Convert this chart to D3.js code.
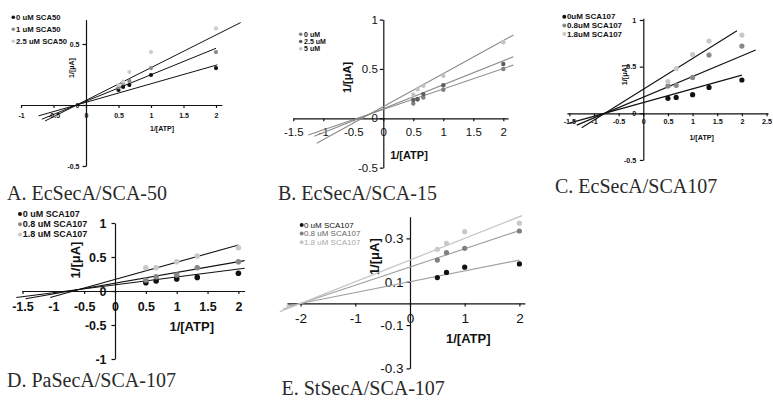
<!DOCTYPE html>
<html>
<head>
<meta charset="utf-8">
<script src="https://cdn.jsdelivr.net/npm/d3@7"></script>
<style>
  body { margin: 0; background: #fff; }
  svg { display: block; }
</style>
</head>
<body>
<svg id="chart" width="773" height="401"></svg>
<script>
// ---- data ----
// A. EcSecA/SCA-50
const aSeries = ['0 uM SCA50', '1 uM SCA50', '2.5 uM SCA50'];
const aX = [0.5, 0.57, 0.667, 1, 2];
const aY = [[0.123, 0.148, 0.164, 0.246, 0.303],
            [0.145, 0.178, 0.197, 0.303, 0.434],
            [0.164, 0.191, 0.27, 0.434, 0.628]];
const aSlope = [0.152, 0.217, 0.268];
const aIntercept = [0.022, 0.031, 0.038];
const aFrom = [-0.73, -0.68, -0.63];
const aTo = [2.02, 2.0, 2.38];
const aXTicks = [-1, -0.5, 0, 0.5, 1, 1.5, 2];
const aYTicks = [-0.5, 0, 0.5];

// B. EcSecA/SCA-15
const bSeries = ['0 uM', '2.5 uM', '5 uM'];
const bX = [0.5, 0.57, 0.667, 1, 2];
const bY = [[0.15, 0.19, 0.21, 0.29, 0.5],
            [0.185, 0.195, 0.245, 0.335, 0.55],
            [0.24, 0.295, 0.33, 0.43, 0.77]];
const bSlope = [0.207, 0.243, 0.334];
const bIntercept = [0.09, 0.097, 0.119];
const bFrom = [-1.25, -1.15, -1.11];
const bTo = [2.17, 2.17, 2.17];
const bXTicks = [-1.5, -1, -0.5, 0, 0.5, 1, 1.5, 2];
const bYTicks = [-0.5, 0, 0.5, 1];

// C. EcSecA/SCA107
const cSeries = ['0uM SCA107', '0.8uM SCA107', '1.8uM SCA107'];
const cX = [0.5, 0.667, 1, 1.333, 2];
const cY = [[0.16, 0.17, 0.2, 0.277, 0.357],
            [0.293, 0.3, 0.385, 0.625, 0.72],
            [0.34, 0.48, 0.63, 0.775, 0.838]];
const cSlope = [0.147, 0.222, 0.33];
const cIntercept = [0.115, 0.173, 0.257];
const cFrom = [-1.5, -1.35, -1.25];
const cTo = [2.0, 2.28, 1.9];
const cXTicks = [-1.5, -1, -0.5, 0, 0.5, 1, 1.5, 2, 2.5];
const cYTicks = [-0.5, 0, 0.5, 1];

// D. PaSecA/SCA-107
const dSeries = ['0 uM SCA107', '0.8 uM SCA107', '1.8 uM SCA107'];
const dX = [0.5, 0.667, 1, 1.333, 2];
const dY = [[0.122, 0.147, 0.176, 0.2, 0.26],
            [0.162, 0.21, 0.235, 0.343, 0.43],
            [0.343, 0.343, 0.43, 0.515, 0.637]];
const dSlope = [0.116, 0.158, 0.253];
const dIntercept = [0.09, 0.115, 0.17];
const dFrom = [-1.6, -1.45, -1.05];
const dTo = [2.1, 2.1, 2.0];
const dXTicks = [-1.5, -1, -0.5, 0, 0.5, 1, 1.5, 2];
const dYTicks = [-1, -0.5, 0, 0.5, 1];

// E. StSecA/SCA-107
const eSeries = ['0 uM SCA107', '0.8 uM SCA107', '1.8 uM SCA107'];
const eX = [0.5, 0.667, 1, 2];
const eY = [[0.119, 0.143, 0.167, 0.182],
            [0.2, 0.234, 0.254, 0.334],
            [0.25, 0.277, 0.331, 0.37]];
const eSlope = [0.05, 0.084, 0.1];
const eIntercept = [0.1, 0.168, 0.2];
const eFrom = [-2.26, -2.32, -2.38];
const eTo = [2.0, 2.0, 2.05];
const eXTicks = [-2, -1, 0, 1, 2];
const eYTicks = [-0.3, -0.1, 0.1, 0.3];

const SANS = '"Liberation Sans", Arial, sans-serif';
const SERIF = '"Liberation Serif", "Times New Roman", serif';
const svg = d3.select('#chart');

const panels = [
  { series: aSeries, xs: aX, ys: aY, slope: aSlope, icpt: aIntercept, from: aFrom, to: aTo,
    xTicks: aXTicks, yTicks: aYTicks, xExt: [-1, 2.09], yExt: [-0.5, 0.7],
    ox: 86, oy: 105, kx: 65, ky: 122, fs: 7, bold: true, xPad: 5.5, yPad: 3,
    dots: ['#111', '#888', '#ccc'], lines: ['#111', '#111', '#111'], r: 2.1, lw: 1,
    yTitle: [71, 68], xTitle: [162, 128], titleFs: 7,
    legend: { x: 13.3, y: 17.3, dy: 12, tx: 2.8, fs: 7.7, bold: true, r: 1.8, textColors: null },
    caption: 'A. EcSecA/SCA-50', cap: [7, 200] },
  { series: bSeries, xs: bX, ys: bY, slope: bSlope, icpt: bIntercept, from: bFrom, to: bTo,
    xTicks: bXTicks, yTicks: bYTicks, xExt: [-1.5, 2.08], yExt: [-0.5, 1],
    ox: 383.3, oy: 118.3, kx: 60, ky: 98.7, fs: 11.5, bold: false, xPad: 7, yPad: 2,
    dots: ['#808080', '#5e5e5e', '#c2c2c2'], lines: ['#8a8a8a', '#8a8a8a', '#8a8a8a'], r: 2.2, lw: 1.1,
    yTitle: [346.7, 77.5], xTitle: [409, 155], titleFs: 11,
    legend: { x: 300.7, y: 34.2, dy: 7.3, tx: 3.4, fs: 7, bold: true, r: 1.8, textColors: null },
    caption: 'B. EcSecA/SCA-15', cap: [278, 200] },
  { series: cSeries, xs: cX, ys: cY, slope: cSlope, icpt: cIntercept, from: cFrom, to: cTo,
    xTicks: cXTicks, yTicks: cYTicks, xExt: [-1.55, 2.53], yExt: [-0.5, 1.02],
    ox: 643.3, oy: 113.3, kx: 49.3, ky: 93.3, fs: 7.2, bold: true, xPad: 3, yPad: 3.5,
    dots: ['#111', '#888', '#c8c8c8'], lines: ['#111', '#111', '#111'], r: 2.6, lw: 1.1,
    yTitle: [624.3, 75], xTitle: [701.7, 137.3], titleFs: 7.2,
    legend: { x: 564.3, y: 16.7, dy: 8.7, tx: 2.6, fs: 8, bold: true, r: 2, textColors: null },
    caption: 'C. EcSecA/SCA107', cap: [555, 193] },
  { series: dSeries, xs: dX, ys: dY, slope: dSlope, icpt: dIntercept, from: dFrom, to: dTo,
    xTicks: dXTicks, yTicks: dYTicks, xExt: [-1.51, 2.1], yExt: [-1, 1],
    ox: 115, oy: 291, kx: 61.7, ky: 68, fs: 12.5, bold: true, xPad: 8.5, yPad: 5,
    dots: ['#111', '#888', '#c8c8c8'], lines: ['#111', '#111', '#111'], r: 2.8, lw: 1.1,
    yTitle: [75, 260], xTitle: [191.7, 326.7], titleFs: 13,
    legend: { x: 20, y: 214, dy: 10.2, tx: 2.8, fs: 9, bold: true, r: 2, textColors: null },
    caption: 'D. PaSecA/SCA-107', cap: [7, 386.5] },
  { series: eSeries, xs: eX, ys: eY, slope: eSlope, icpt: eIntercept, from: eFrom, to: eTo,
    xTicks: eXTicks, yTicks: eYTicks, xExt: [-2.25, 2.1], yExt: [-0.3, 0.4],
    ox: 410, oy: 303.4, kx: 54.7, ky: 216.7, fs: 13.5, bold: false, xPad: 7, yPad: 3,
    dots: ['#111', '#808080', '#c8c8c8'], lines: ['#a2a2a2', '#a2a2a2', '#c4c4c4'], r: 2.6, lw: 1.2,
    yTitle: [374.3, 256.7], xTitle: [468.3, 338.3], titleFs: 13,
    legend: { x: 301.7, y: 225, dy: 8.6, tx: 2.2, fs: 8, bold: false, r: 2, textColors: ['#111', '#666', '#aaa'] },
    caption: 'E. StSecA/SCA-107', cap: [281.5, 395] }
];

function drawPanel(p) {
  const g = svg.append('g');
  const x = d3.scaleLinear().domain(p.xExt).range(p.xExt.map(v => p.ox + v * p.kx));
  const y = d3.scaleLinear().domain(p.yExt).range(p.yExt.map(v => p.oy - v * p.ky));
  const weight = p.bold ? 'bold' : 'normal';

  const xa = g.append('g')
    .attr('transform', `translate(0,${y(0)})`)
    .call(d3.axisBottom(x).tickValues(p.xTicks).tickSize(3).tickSizeOuter(0)
      .tickPadding(p.xPad).tickFormat(String));
  const ya = g.append('g')
    .attr('transform', `translate(${x(0)},0)`)
    .call(d3.axisLeft(y).tickValues(p.yTicks).tickSize(3.5).tickSizeOuter(0)
      .tickPadding(p.yPad).tickFormat(String));

  [xa, ya].forEach(a => {
    a.attr('font-family', SANS).attr('font-size', p.fs).attr('font-weight', weight);
    a.selectAll('text').attr('fill', '#111');
    a.selectAll('path, line').attr('stroke', '#111').attr('stroke-width', 1.2);
  });

  // axis titles
  g.append('text')
    .attr('transform', `translate(${p.yTitle[0]},${p.yTitle[1]}) rotate(-90)`)
    .attr('text-anchor', 'middle').attr('dominant-baseline', 'central')
    .attr('font-family', SANS).attr('font-size', p.titleFs).attr('font-weight', 'bold')
    .attr('fill', '#111').text('1/[μA]');
  g.append('text')
    .attr('x', p.xTitle[0]).attr('y', p.xTitle[1])
    .attr('text-anchor', 'middle').attr('dominant-baseline', 'central')
    .attr('font-family', SANS).attr('font-size', p.titleFs).attr('font-weight', 'bold')
    .attr('fill', '#111').text('1/[ATP]');

  // trend lines
  const line = d3.line().x(d => x(d[0])).y(d => y(d[1]));
  p.slope.forEach((m, i) => {
    const b = p.icpt[i];
    g.append('path')
      .attr('d', line([[p.from[i], m * p.from[i] + b], [p.to[i], m * p.to[i] + b]]))
      .attr('fill', 'none').attr('stroke', p.lines[i]).attr('stroke-width', p.lw);
  });

  // points
  p.ys.forEach((vals, i) => {
    g.append('g').selectAll('circle')
      .data(vals.map((v, j) => [p.xs[j], v]))
      .join('circle')
      .attr('cx', d => x(d[0])).attr('cy', d => y(d[1]))
      .attr('r', p.r).attr('fill', p.dots[i]);
  });

  // legend
  const L = p.legend;
  const lg = g.append('g');
  p.series.forEach((name, i) => {
    const ly = L.y + i * L.dy;
    lg.append('circle').attr('cx', L.x).attr('cy', ly).attr('r', L.r).attr('fill', p.dots[i]);
    lg.append('text')
      .attr('x', L.x + L.tx).attr('y', ly)
      .attr('dominant-baseline', 'central')
      .attr('font-family', SANS).attr('font-size', L.fs)
      .attr('font-weight', L.bold ? 'bold' : 'normal')
      .attr('fill', L.textColors ? L.textColors[i] : '#111')
      .text(name);
  });

  // caption
  g.append('text')
    .attr('x', p.cap[0]).attr('y', p.cap[1])
    .attr('font-family', SERIF).attr('font-size', 20)
    .attr('fill', '#2a2a2a').text(p.caption);
}

panels.forEach(drawPanel);
</script>
</body>
</html>
